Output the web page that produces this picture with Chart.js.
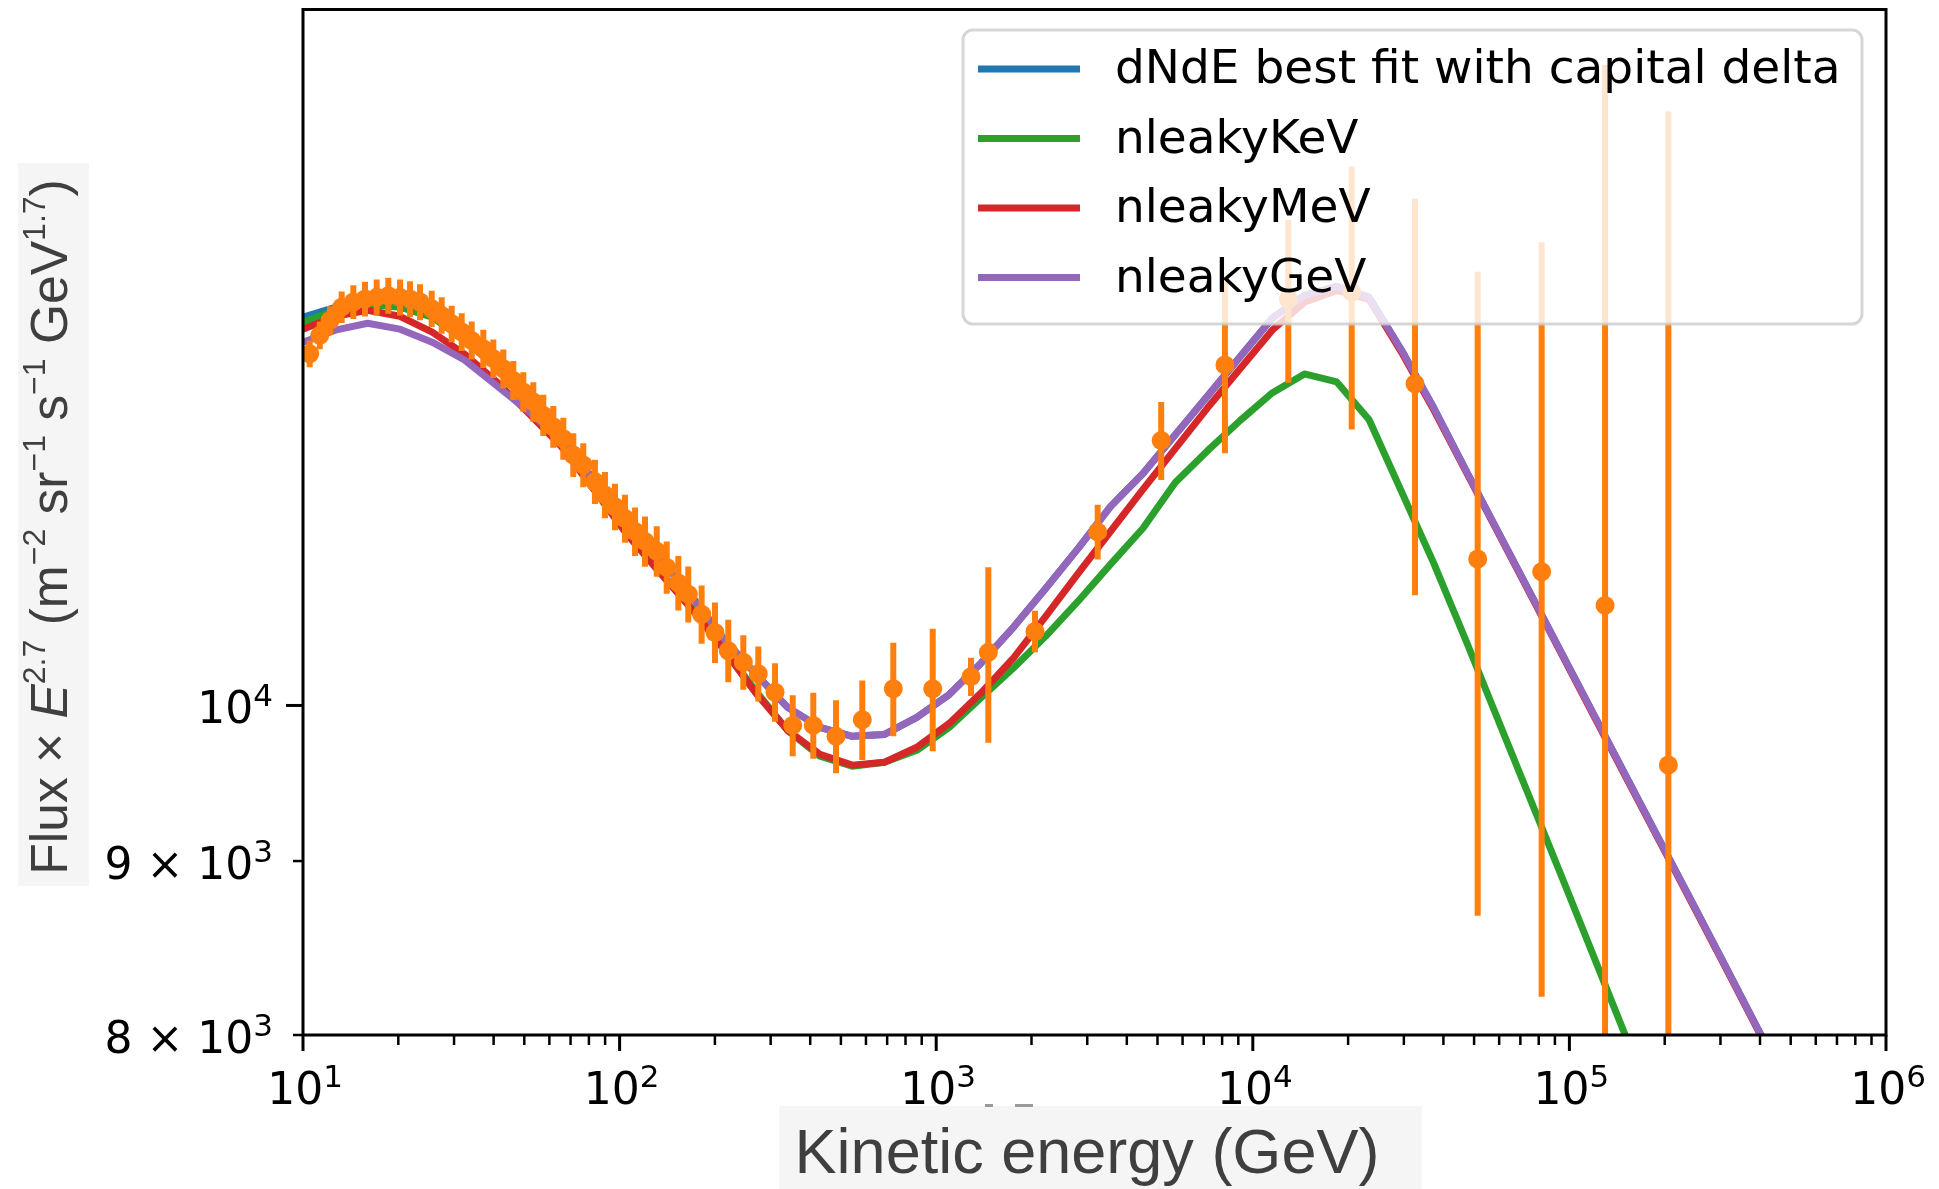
<!DOCTYPE html>
<html>
<head>
<meta charset="utf-8">
<script src="https://cdn.jsdelivr.net/npm/chart.js@4.4.0/dist/chart.umd.min.js"></script>
<style>
  html, body { margin: 0; padding: 0; background: #fff; }
  #wrap { width: 1939px; height: 1189px; }
</style>
</head>
<body>
<div id="wrap"><canvas id="chart" width="1939" height="1189"></canvas></div>
<script>
"use strict";
///////////////////////////////
//Data

// model grid (GeV)
const modelE = [10, 12.65, 16.0, 20.24, 25.6, 32.37, 40.95, 51.79, 65.51, 82.86,
  104.8, 132.6, 167.7, 212.1, 268.3, 339.3, 429.2, 542.9, 686.6, 868.5,
  1099, 1389, 1758, 2223, 2812, 3556, 4498, 5690, 7197, 9103,
  11514, 14563, 18421, 23300, 29471, 37276, 47149, 59636, 75431, 95410,
  120679, 152642, 193070, 244205, 308884, 390694, 494171, 625055, 790604, 1000000];

const bestFit = [13007, 13095, 13139, 13139, 13051, 12833, 12601, 12307, 12004, 11653,
  11328, 11057, 10777, 10469, 10218, 9987, 9853, 9793, 9806, 9919,
  10074, 10294, 10547, 10828, 11124, 11443, 11701, 12012, 12332, 12661,
  12998, 13201, 13281, 13183, 12721, 12233, 11724, 11244, 10784, 10343,
  9919, 9513, 9124, 8751, 8392, 8044, 7714, 7399, 7096, 6805];

const leakyKeV = [12963, 13068, 13121, 13095, 13007, 12807, 12567, 12266, 11956, 11599,
  11252, 10967, 10690, 10399, 10102, 9833, 9662, 9597, 9623, 9701,
  9853, 10054, 10259, 10483, 10733, 11004, 11275, 11630, 11883, 12126,
  12357, 12517, 12449, 12134, 11560, 11012, 10448, 9899, 9380, 8887,
  8415, 7968, 7550, 7149, 6773, 6413, 6077, 5754, 5452, 5162];

const leakyMeV = [12902, 13015, 13068, 13015, 12876, 12686, 12449, 12184, 11916, 11575,
  11237, 10953, 10683, 10392, 10088, 9833, 9675, 9604, 9623, 9721,
  9879, 10088, 10329, 10625, 10938, 11252, 11575, 11900, 12233, 12559,
  12893, 13139, 13245, 13166, 12703, 12216, 11716, 11237, 10777, 10336,
  9912, 9506, 9118, 8745, 8386, 8039, 7709, 7394, 7091, 6800];

const leakyGeV = [12789, 12893, 12954, 12902, 12789, 12635, 12416, 12200, 11956, 11653,
  11328, 11057, 10777, 10469, 10218, 9987, 9853, 9793, 9806, 9919,
  10074, 10294, 10547, 10828, 11124, 11443, 11701, 12012, 12332, 12661,
  12998, 13201, 13281, 13183, 12721, 12233, 11724, 11244, 10784, 10343,
  9919, 9513, 9124, 8751, 8392, 8044, 7714, 7399, 7096, 6805];

// measured points
const dataE = [10.5, 11.3, 12.17, 13.25, 14.42, 15.7, 17.09, 18.6, 20.25, 21.78,
  23.42, 25.5, 27.42, 29.49, 31.72, 34.11, 37.11, 39.92, 42.93, 46.16,
  49.64, 53.39, 57.41, 61.74, 66.4, 71.41, 76.79, 83.6, 89.9, 96.7,
  104.0, 111.9, 120.3, 131.0, 140.9, 153.3, 164.8, 181.6, 200.1, 220.4,
  245.9, 274.2, 309.7, 352.2, 409.1, 482.6, 584.2, 732, 975, 1288,
  1461, 2051, 3236, 5137, 8166, 12947, 20532, 32537, 51320, 81730,
  129600, 205400];

const dataF = [12689, 12848, 12979, 13096, 13141, 13168, 13183, 13198, 13183, 13168,
  13141, 13081, 13023, 12949, 12877, 12804, 12732, 12647, 12561, 12462,
  12365, 12282, 12172, 12077, 11980, 11848, 11768, 11636, 11532, 11440,
  11349, 11250, 11175, 11100, 10980, 10865, 10782, 10637, 10507, 10378,
  10297, 10217, 10090, 9866, 9866, 9793, 9904, 10114, 10114, 10197,
  10366, 10514, 11247, 11965, 12593, 13168, 13230, 12434, 11043, 10947,
  10701, 9605];

const dataErr = [115, 120, 125, 140, 150, 155, 160, 160, 160, 160,
  160, 160, 160, 160, 165, 165, 165, 165, 165, 165,
  165, 165, 170, 170, 170, 175, 175, 175, 180, 180,
  185, 185, 190, 190, 195, 200, 205, 210, 215, 220,
  190, 190, 200, 204, 221, 242, 266, 320, 420, 132,
  615, 148, 208, 316, 730, 725, 1175, 1660, 2370, 2737,
  4729, 5348];

const legendLabels = ["dNdE best fit with capital delta", "nleakyKeV", "nleakyMeV", "nleakyGeV"];
const legendColors = ["#1f77b4", "#2ca02c", "#d62728", "#9467bd"];

const xTickValues = [1e1, 1e2, 1e3, 1e4, 1e5, 1e6];
const xTickExp = ["1", "2", "3", "4", "5", "6"];
const yTickValues = [8000, 9000, 10000];
const yTickBase = ["8 \u00d7 10", "9 \u00d7 10", "10"];
const yTickExp = ["3", "3", "4"];

///////////////////////////////
//Helpers
const TICK_FONT = "DejaVu Sans";

const drawRich = function (ctx, parts, x, y, align) {
  let w = 0;
  parts.forEach((p) => {
    ctx.font = p.font;
    w += ctx.measureText(p.t).width;
  });
  let cx = align === "right" ? x - w : align === "center" ? x - w / 2 : x;
  parts.forEach((p) => {
    ctx.font = p.font;
    ctx.fillText(p.t, cx, y - (p.rise || 0));
    cx += ctx.measureText(p.t).width;
  });
  return w;
};

const powParts = function (base, exp) {
  return [
    { t: base, font: `44px ${TICK_FONT}` },
    { t: exp, font: `31px ${TICK_FONT}`, rise: 17 },
  ];
};

// title parts, sized by f
const yTitleParts = function (f) {
  const n = `${f}px "Liberation Sans"`;
  const s = `${Math.round(f * 0.62)}px "Liberation Sans"`;
  const r = f * 0.42;
  return [
    { t: "Flux \u00d7 ", font: n },
    { t: "E", font: `italic ${n}` },
    { t: "2.7", font: s, rise: r },
    { t: " (m", font: n },
    { t: "\u22122", font: s, rise: r },
    { t: " sr", font: n },
    { t: "\u22121", font: s, rise: r },
    { t: " s", font: n },
    { t: "\u22121", font: s, rise: r },
    { t: " GeV", font: n },
    { t: "1.7", font: s, rise: r },
    { t: ")", font: n },
  ];
};

const partsWidth = function (ctx, parts) {
  let w = 0;
  parts.forEach((p) => {
    ctx.font = p.font;
    w += ctx.measureText(p.t).width;
  });
  return w;
};

///////////////////////////////
//Plugins
const errorBars = {
  id: "errorBars",
  beforeDatasetDraw(chart, args) {
    if (args.index !== 4) return;
    const { ctx, chartArea: a, scales } = chart;
    ctx.save();
    ctx.beginPath();
    ctx.rect(a.left, a.top, a.right - a.left, a.bottom - a.top);
    ctx.clip();
    ctx.strokeStyle = "#ff7f0e";
    ctx.lineWidth = 6;
    ctx.lineCap = "butt";
    for (let i = 0; i < dataE.length; i++) {
      const px = scales.x.getPixelForValue(dataE[i]);
      const lo = Math.max(dataF[i] - dataErr[i], 1000);
      const y1 = scales.y.getPixelForValue(dataF[i] + dataErr[i]);
      const y2 = scales.y.getPixelForValue(lo);
      ctx.beginPath();
      ctx.moveTo(px, y1);
      ctx.lineTo(px, y2);
      ctx.stroke();
    }
    ctx.restore();
  },
};

const axesAndLegend = {
  id: "axesAndLegend",
  afterDatasetsDraw(chart) {
    const { ctx, chartArea: a, scales } = chart;
    const xs = scales.x;
    const ys = scales.y;
    ctx.save();

    // legend box
    const lx = 963, ly = 30, lw = 899, lh = 294;
    ctx.beginPath();
    ctx.roundRect(lx, ly, lw, lh, 10);
    ctx.fillStyle = "rgba(255,255,255,0.8)";
    ctx.fill();
    ctx.lineWidth = 3;
    ctx.strokeStyle = "rgba(204,204,204,0.8)";
    ctx.stroke();
    ctx.textBaseline = "middle";
    ctx.textAlign = "left";
    legendLabels.forEach((lab, i) => {
      const cy = 69 + i * 69.5;
      ctx.strokeStyle = legendColors[i];
      ctx.lineWidth = 7;
      ctx.beginPath();
      ctx.moveTo(978, cy);
      ctx.lineTo(1080, cy);
      ctx.stroke();
      ctx.fillStyle = "#000";
      ctx.font = `47px ${TICK_FONT}`;
      ctx.fillText(lab, 1115, cy + 2);
    });

    // axis title backgrounds (pasted-in look), under the tick labels
    ctx.fillStyle = "#f5f5f5";
    ctx.fillRect(779, 1106, 643, 83);
    ctx.fillRect(18, 163, 71, 723);
    // stray marks left over from the paste
    ctx.fillStyle = "#9a9a9a";
    ctx.fillRect(985, 1104, 8, 3);
    ctx.fillRect(1015, 1104, 18, 3);

    // frame
    ctx.strokeStyle = "#000";
    ctx.lineWidth = 3;
    ctx.strokeRect(a.left, a.top, a.right - a.left, a.bottom - a.top);

    // x ticks
    ctx.lineWidth = 3;
    for (let d = 1; d <= 6; d++) {
      const base = Math.pow(10, d);
      const px = xs.getPixelForValue(base);
      ctx.beginPath();
      ctx.moveTo(px, a.bottom);
      ctx.lineTo(px, a.bottom + 16);
      ctx.stroke();
      if (d < 6) {
        for (let m = 2; m <= 9; m++) {
          const mx = xs.getPixelForValue(m * base);
          ctx.beginPath();
          ctx.moveTo(mx, a.bottom);
          ctx.lineTo(mx, a.bottom + 10);
          ctx.lineWidth = 2.5;
          ctx.stroke();
          ctx.lineWidth = 3;
        }
      }
    }
    ctx.fillStyle = "#000";
    ctx.textBaseline = "alphabetic";
    xTickValues.forEach((v, i) => {
      const px = xs.getPixelForValue(v);
      drawRich(ctx, powParts("10", xTickExp[i]), px + 2, 1104, "center");
    });

    // y ticks
    yTickValues.forEach((v, i) => {
      const py = ys.getPixelForValue(v);
      ctx.lineWidth = i === 2 ? 3 : 2.5;
      ctx.beginPath();
      ctx.moveTo(a.left, py);
      ctx.lineTo(a.left - (i === 2 ? 17 : 10), py);
      ctx.stroke();
      drawRich(ctx, powParts(yTickBase[i], yTickExp[i]), 273, py + 18, "right");
    });

    // axis titles
    ctx.fillStyle = "#3f3f3f";
    ctx.font = '64px "Liberation Sans"';
    const xt = "Kinetic energy (GeV)";
    let xf = 64 * 585 / ctx.measureText(xt).width;
    ctx.font = `${xf}px "Liberation Sans"`;
    ctx.textAlign = "center";
    ctx.fillText(xt, 1087, 1173);

    ctx.textAlign = "left";
    const yf = 52 * 694 / partsWidth(ctx, yTitleParts(52));
    ctx.translate(67, 527);
    ctx.rotate(-Math.PI / 2);
    drawRich(ctx, yTitleParts(yf), 0, 0, "center");
    ctx.restore();
  },
};

///////////////////////////////
//Chart
const lineSet = function (label, color, values, order) {
  return {
    label: label,
    data: modelE.map((e, i) => ({ x: e, y: values[i] })),
    showLine: true,
    borderColor: color,
    backgroundColor: color,
    borderWidth: 7,
    pointRadius: 0,
    tension: 0,
    borderJoinStyle: "round",
    clip: 0,
    order: order,
  };
};

const chart = new Chart(document.getElementById("chart"), {
  type: "scatter",
  data: {
    datasets: [
      lineSet(legendLabels[0], legendColors[0], bestFit, 4),
      lineSet(legendLabels[1], legendColors[1], leakyKeV, 3),
      lineSet(legendLabels[2], legendColors[2], leakyMeV, 2),
      lineSet(legendLabels[3], legendColors[3], leakyGeV, 1),
      {
        label: "data",
        data: dataE.map((e, i) => ({ x: e, y: dataF[i] })),
        showLine: false,
        pointRadius: 9.5,
        pointBorderWidth: 0,
        backgroundColor: "#ff7f0e",
        borderColor: "#ff7f0e",
        clip: 0,
        order: 0,
      },
    ],
  },
  options: {
    responsive: false,
    animation: false,
    devicePixelRatio: 1,
    events: [],
    layout: { padding: { left: 0, right: 53, top: 6, bottom: 0 } },
    plugins: { legend: { display: false }, tooltip: { enabled: false } },
    scales: {
      x: {
        type: "logarithmic",
        min: 10,
        max: 1e6,
        grid: { display: false },
        border: { display: false },
        ticks: { display: false },
        afterFit: (s) => { s.height = 154; },
      },
      y: {
        type: "logarithmic",
        min: 8000,
        max: 16020,
        grid: { display: false },
        border: { display: false },
        ticks: { display: false },
        afterFit: (s) => { s.width = 303; },
      },
    },
  },
  plugins: [errorBars, axesAndLegend],
});
</script>
</body>
</html>
